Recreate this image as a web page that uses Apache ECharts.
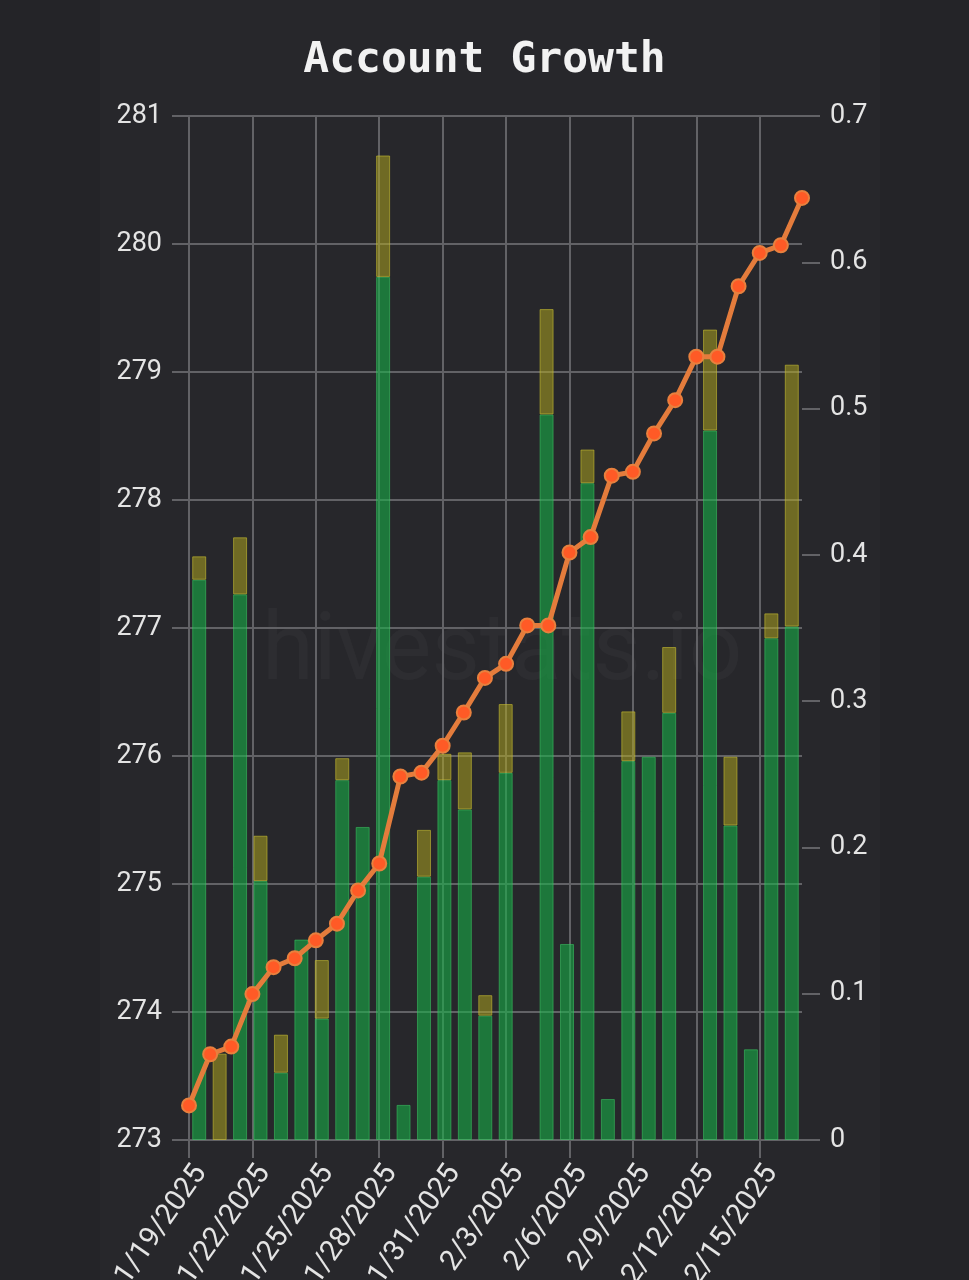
<!DOCTYPE html>
<html>
<head>
<meta charset="utf-8">
<script src="https://cdn.jsdelivr.net/npm/echarts@6/dist/echarts.min.js"></script>
<style>
  html, body { margin: 0; padding: 0; background: #242428; }
  #chart { width: 969px; height: 1280px; }
</style>
</head>
<body>
<div id="chart"></div>
<script>
const dates = ['1/19/2025','1/20/2025','1/21/2025','1/22/2025','1/23/2025','1/24/2025','1/25/2025','1/26/2025','1/27/2025','1/28/2025',
  '1/29/2025','1/30/2025','1/31/2025','2/1/2025','2/2/2025','2/3/2025','2/4/2025','2/5/2025','2/6/2025','2/7/2025',
  '2/8/2025','2/9/2025','2/10/2025','2/11/2025','2/12/2025','2/13/2025','2/14/2025','2/15/2025','2/16/2025','2/17/2025'];

const balance = [273.27, 273.67, 273.73, 274.14, 274.35, 274.42, 274.56, 274.69, 274.95, 275.16,
  275.84, 275.87, 276.08, 276.34, 276.61, 276.72, 277.02, 277.02, 277.59, 277.71,
  278.19, 278.22, 278.52, 278.78, 279.12, 279.12, 279.67, 279.93, 279.99, 280.36];

const greenGain = [0.383, 0, 0.373, 0.177, 0.046, 0.137, 0.083, 0.246, 0.214, 0.590,
  0.024, 0.180, 0.246, 0.226, 0.085, 0.251, 0, 0.496, 0.134, 0.449,
  0.028, 0.259, 0.262, 0.292, 0, 0.485, 0.215, 0.062, 0.343, 0.351];

const yellowGain = [0.016, 0.059, 0.039, 0.031, 0.026, 0, 0.040, 0.015, 0, 0.083,
  0, 0.032, 0.018, 0.039, 0.014, 0.047, 0, 0.072, 0, 0.023,
  0, 0.034, 0, 0.045, 0, 0.069, 0.047, 0, 0.017, 0.179];

const leftMin = 273, leftMax = 281, leftStep = 1;
const rightMin = 0, rightMax = 0.7, rightStep = 0.1;

const gridColor = '#626266';
const labelColor = '#e4e4e4';
const toBar = v => (v === 0 ? '-' : v);

const chart = echarts.init(document.getElementById('chart'), null, { renderer: 'canvas' });
chart.setOption({
  animation: false,
  backgroundColor: '#242428',
  graphic: [
    { type: 'rect', z: -10, silent: true, shape: { x: 100, y: 0, width: 780, height: 1280 }, style: { fill: '#27272b' } },
    { type: 'text', z: 0, silent: true, left: 262, top: 608,
      style: { text: 'hivestats.io', fill: 'rgba(255,255,255,0.03)', font: '94px Roboto' } }
  ],
  title: {
    text: 'Account Growth',
    left: 'center',
    top: 34,
    textStyle: { color: '#f2f2f2', fontFamily: 'DejaVu Sans Mono', fontWeight: 'bold', fontSize: 43 }
  },
  grid: { left: 189, right: 167, top: 116, bottom: 140, containLabel: false, outerBoundsMode: 'none' },
  xAxis: [
    {
      type: 'category',
      data: dates,
      boundaryGap: false,
      axisLine: { show: true, lineStyle: { color: gridColor, width: 2 } },
      axisTick: { show: true, interval: 2, length: 18, lineStyle: { color: gridColor, width: 2 } },
      axisLabel: { interval: 2, rotate: 55, color: labelColor, fontSize: 29, fontFamily: 'Roboto',
        margin: 20, verticalAlign: 'top' },
      splitLine: { show: true, interval: 2, lineStyle: { color: gridColor, width: 2 } }
    },
    {
      type: 'category',
      data: dates,
      boundaryGap: true,
      show: false
    }
  ],
  yAxis: [
    {
      type: 'value',
      min: leftMin, max: leftMax, interval: leftStep,
      position: 'left',
      axisLine: { show: true, lineStyle: { color: gridColor, width: 2 } },
      axisTick: { show: true, length: 17, lineStyle: { color: gridColor, width: 2 } },
      axisLabel: { color: labelColor, fontSize: 27, fontFamily: 'Roboto', margin: 27 },
      splitLine: { show: true, lineStyle: { color: gridColor, width: 2 } }
    },
    {
      type: 'value',
      min: rightMin, max: rightMax, interval: rightStep,
      position: 'right',
      axisLine: { show: false },
      axisTick: { show: true, length: 18, lineStyle: { color: gridColor, width: 2 } },
      axisLabel: { color: labelColor, fontSize: 27, fontFamily: 'Roboto', margin: 28 },
      splitLine: { show: false }
    }
  ],
  series: [
    {
      name: 'Gain',
      type: 'bar',
      xAxisIndex: 1,
      yAxisIndex: 1,
      stack: 'gain',
      barWidth: 14,
      z: 3,
      data: greenGain.map(toBar),
      itemStyle: { color: 'rgba(22,178,70,0.58)', borderColor: 'rgba(60,200,100,0.55)', borderWidth: 1 }
    },
    {
      name: 'Extra',
      type: 'bar',
      xAxisIndex: 1,
      yAxisIndex: 1,
      stack: 'gain',
      barWidth: 14,
      z: 3,
      data: yellowGain.map(toBar),
      itemStyle: { color: 'rgba(178,168,30,0.52)', borderColor: 'rgba(200,190,50,0.6)', borderWidth: 1 }
    },
    {
      name: 'Balance',
      type: 'line',
      xAxisIndex: 0,
      yAxisIndex: 0,
      data: balance,
      z: 5,
      symbol: 'circle',
      symbolSize: 14,
      showSymbol: true,
      showAllSymbol: true,
      lineStyle: { color: '#e47c3c', width: 5 },
      itemStyle: { color: '#ff5a26', borderColor: '#e8803e', borderWidth: 2 }
    }
  ]
});
</script>
</body>
</html>
